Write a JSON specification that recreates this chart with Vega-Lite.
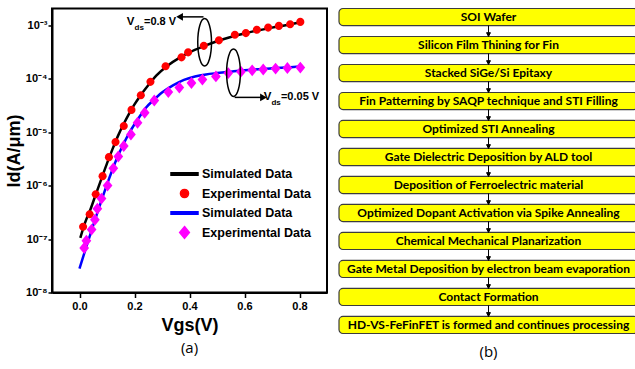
{
  "$schema": "https://vega.github.io/schema/vega-lite/v6.json",
  "padding": {"left": 4, "top": 7.5, "right": 0, "bottom": 0},
  "spacing": 10,
  "config": {
    "font": "Liberation Sans",
    "view": {"stroke": "black", "strokeWidth": 2},
    "axis": {"grid": false, "domainColor": "black", "domainWidth": 2, "tickColor": "black", "tickWidth": 1.5, "labelColor": "black", "titleColor": "black"}
  },
  "datasets": {
    "sim": [
      {"V": 0.003, "I": 1.05e-7, "series": "sim08"},
      {"V": 0.02, "I": 2.0e-7, "series": "sim08"},
      {"V": 0.04, "I": 3.6e-7, "series": "sim08"},
      {"V": 0.06, "I": 7.0e-7, "series": "sim08"},
      {"V": 0.08, "I": 1.35e-6, "series": "sim08"},
      {"V": 0.10, "I": 2.6e-6, "series": "sim08"},
      {"V": 0.12, "I": 4.8e-6, "series": "sim08"},
      {"V": 0.14, "I": 8.5e-6, "series": "sim08"},
      {"V": 0.16, "I": 1.4e-5, "series": "sim08"},
      {"V": 0.18, "I": 2.2e-5, "series": "sim08"},
      {"V": 0.20, "I": 3.3e-5, "series": "sim08"},
      {"V": 0.22, "I": 4.7e-5, "series": "sim08"},
      {"V": 0.25, "I": 7.5e-5, "series": "sim08"},
      {"V": 0.28, "I": 1.15e-4, "series": "sim08"},
      {"V": 0.32, "I": 1.75e-4, "series": "sim08"},
      {"V": 0.36, "I": 2.4e-4, "series": "sim08"},
      {"V": 0.40, "I": 3.1e-4, "series": "sim08"},
      {"V": 0.45, "I": 4.0e-4, "series": "sim08"},
      {"V": 0.50, "I": 5.0e-4, "series": "sim08"},
      {"V": 0.55, "I": 6.0e-4, "series": "sim08"},
      {"V": 0.60, "I": 7.0e-4, "series": "sim08"},
      {"V": 0.65, "I": 8.0e-4, "series": "sim08"},
      {"V": 0.70, "I": 9.0e-4, "series": "sim08"},
      {"V": 0.75, "I": 1.0e-3, "series": "sim08"},
      {"V": 0.80, "I": 1.12e-3, "series": "sim08"},
      {"V": 0.0, "I": 2.8e-8, "series": "sim005"},
      {"V": 0.02, "I": 6.0e-8, "series": "sim005"},
      {"V": 0.04, "I": 1.25e-7, "series": "sim005"},
      {"V": 0.06, "I": 2.6e-7, "series": "sim005"},
      {"V": 0.08, "I": 5.3e-7, "series": "sim005"},
      {"V": 0.10, "I": 1.05e-6, "series": "sim005"},
      {"V": 0.12, "I": 2.0e-6, "series": "sim005"},
      {"V": 0.14, "I": 3.6e-6, "series": "sim005"},
      {"V": 0.16, "I": 6.0e-6, "series": "sim005"},
      {"V": 0.18, "I": 9.5e-6, "series": "sim005"},
      {"V": 0.20, "I": 1.4e-5, "series": "sim005"},
      {"V": 0.22, "I": 2.0e-5, "series": "sim005"},
      {"V": 0.24, "I": 2.8e-5, "series": "sim005"},
      {"V": 0.27, "I": 4.0e-5, "series": "sim005"},
      {"V": 0.30, "I": 5.5e-5, "series": "sim005"},
      {"V": 0.34, "I": 7.5e-5, "series": "sim005"},
      {"V": 0.38, "I": 9.5e-5, "series": "sim005"},
      {"V": 0.42, "I": 1.1e-4, "series": "sim005"},
      {"V": 0.46, "I": 1.2e-4, "series": "sim005"},
      {"V": 0.50, "I": 1.27e-4, "series": "sim005"},
      {"V": 0.55, "I": 1.35e-4, "series": "sim005"},
      {"V": 0.60, "I": 1.43e-4, "series": "sim005"},
      {"V": 0.65, "I": 1.5e-4, "series": "sim005"},
      {"V": 0.70, "I": 1.56e-4, "series": "sim005"},
      {"V": 0.75, "I": 1.62e-4, "series": "sim005"},
      {"V": 0.80, "I": 1.68e-4, "series": "sim005"}
    ],
    "exp": [
      {"V": 0.013, "I": 1.7e-7, "series": "exp08"},
      {"V": 0.037, "I": 2.9e-7, "series": "exp08"},
      {"V": 0.059, "I": 6.9e-7, "series": "exp08"},
      {"V": 0.084, "I": 1.5e-6, "series": "exp08"},
      {"V": 0.107, "I": 3.4e-6, "series": "exp08"},
      {"V": 0.131, "I": 6.5e-6, "series": "exp08"},
      {"V": 0.161, "I": 1.3e-5, "series": "exp08"},
      {"V": 0.189, "I": 2.6e-5, "series": "exp08"},
      {"V": 0.223, "I": 4.9e-5, "series": "exp08"},
      {"V": 0.258, "I": 8.7e-5, "series": "exp08"},
      {"V": 0.313, "I": 1.7e-4, "series": "exp08"},
      {"V": 0.371, "I": 2.5e-4, "series": "exp08"},
      {"V": 0.395, "I": 3.1e-4, "series": "exp08"},
      {"V": 0.452, "I": 4.1e-4, "series": "exp08"},
      {"V": 0.507, "I": 5.2e-4, "series": "exp08"},
      {"V": 0.565, "I": 6.6e-4, "series": "exp08"},
      {"V": 0.605, "I": 7.1e-4, "series": "exp08"},
      {"V": 0.645, "I": 8.2e-4, "series": "exp08"},
      {"V": 0.686, "I": 9.0e-4, "series": "exp08"},
      {"V": 0.725, "I": 9.7e-4, "series": "exp08"},
      {"V": 0.766, "I": 1.04e-3, "series": "exp08"},
      {"V": 0.803, "I": 1.15e-3, "series": "exp08"},
      {"V": 0.017, "I": 6.8e-8, "series": "exp005"},
      {"V": 0.025, "I": 9.3e-8, "series": "exp005"},
      {"V": 0.044, "I": 1.5e-7, "series": "exp005"},
      {"V": 0.056, "I": 2.3e-7, "series": "exp005"},
      {"V": 0.065, "I": 3.7e-7, "series": "exp005"},
      {"V": 0.08, "I": 5.7e-7, "series": "exp005"},
      {"V": 0.102, "I": 1.0e-6, "series": "exp005"},
      {"V": 0.123, "I": 2.1e-6, "series": "exp005"},
      {"V": 0.141, "I": 3.5e-6, "series": "exp005"},
      {"V": 0.161, "I": 5.5e-6, "series": "exp005"},
      {"V": 0.187, "I": 9.0e-6, "series": "exp005"},
      {"V": 0.211, "I": 1.5e-5, "series": "exp005"},
      {"V": 0.237, "I": 2.3e-5, "series": "exp005"},
      {"V": 0.272, "I": 3.9e-5, "series": "exp005"},
      {"V": 0.323, "I": 5.6e-5, "series": "exp005"},
      {"V": 0.363, "I": 6.8e-5, "series": "exp005"},
      {"V": 0.407, "I": 8.3e-5, "series": "exp005"},
      {"V": 0.447, "I": 9.6e-5, "series": "exp005"},
      {"V": 0.496, "I": 1.1e-4, "series": "exp005"},
      {"V": 0.541, "I": 1.27e-4, "series": "exp005"},
      {"V": 0.587, "I": 1.35e-4, "series": "exp005"},
      {"V": 0.628, "I": 1.43e-4, "series": "exp005"},
      {"V": 0.668, "I": 1.48e-4, "series": "exp005"},
      {"V": 0.713, "I": 1.54e-4, "series": "exp005"},
      {"V": 0.756, "I": 1.58e-4, "series": "exp005"},
      {"V": 0.803, "I": 1.61e-4, "series": "exp005"}
    ],
    "ellipses": [
      {"V": 0.455, "I": 4.8e-4},
      {"V": 0.56, "I": 1.29e-4}
    ],
    "arrows": [
      {"from": 0.451, "to": 0.364, "I": 1.43e-3, "dir": "left"},
      {"from": 0.564, "to": 0.669, "I": 4.46e-5, "dir": "right"}
    ],
    "notes": [
      {"V": 0.2, "I": 1.16e-3, "val": "=0.8 V"},
      {"V": 0.698, "I": 4.5e-5, "val": "=0.05 V"}
    ],
    "steps": [
      {"step": "SOI Wafer"},
      {"step": "Silicon Film Thining for Fin"},
      {"step": "Stacked SiGe/Si Epitaxy"},
      {"step": "Fin Patterning by SAQP technique and  STI  Filling"},
      {"step": "Optimized STI Annealing"},
      {"step": "Gate Dielectric Deposition by ALD tool"},
      {"step": "Deposition of Ferroelectric material"},
      {"step": "Optimized Dopant Activation via Spike Annealing"},
      {"step": "Chemical Mechanical Planarization"},
      {"step": "Gate Metal Deposition by electron beam evaporation"},
      {"step": "Contact Formation"},
      {"step": "HD-VS-FeFinFET  is formed and continues processing"}
    ]
  },
  "hconcat": [
    {
      "width": 275,
      "height": 284,
      "title": {"text": "(a)", "orient": "bottom", "anchor": "middle", "font": "Open Sans", "fontSize": 15, "fontWeight": "normal", "offset": 6},
      "layer": [
        {
          "data": {"name": "sim"},
          "mark": {"type": "line", "strokeWidth": 2.5, "interpolate": "monotone"},
          "encoding": {
            "x": {"field": "V", "type": "quantitative",
              "scale": {"domain": [-0.1, 0.9], "nice": false, "zero": false},
              "axis": {"values": [0, 0.1, 0.2, 0.3, 0.4, 0.5, 0.6, 0.7, 0.8],
                "labelExpr": "round(datum.value*10) % 2 == 0 ? format(datum.value, '.1f') : ''",
                "tickSize": {"condition": {"test": "round(datum.value*10) % 2 != 0", "value": 3}, "value": 5},
                "labelFont": "Liberation Sans", "labelFontWeight": "bold", "labelFontSize": 11, "labelPadding": 3,
                "title": "Vgs(V)", "titleFont": "Liberation Sans", "titleFontWeight": "bold", "titleFontSize": 18, "titlePadding": 5}},
            "y": {"field": "I", "type": "quantitative",
              "scale": {"type": "log", "domain": [1e-8, 2.05e-3], "nice": false},
              "axis": {"values": [1e-8, 1e-7, 1e-6, 1e-5, 1e-4, 1e-3],
                "labelExpr": "'10' + ['⁻⁸','⁻⁷','⁻⁶','⁻⁵','⁻⁴','⁻³'][round(log(datum.value)/LN10) + 8]",
                "tickSize": 4, "labelFont": "Liberation Sans", "labelFontWeight": "bold", "labelFontSize": 11, "labelPadding": 1,
                "title": "Id(A/μm)", "titleFont": "Liberation Sans", "titleFontWeight": "bold", "titleFontSize": 18, "titlePadding": 2}},
            "color": {"field": "series", "type": "nominal",
              "scale": {"domain": ["sim08", "exp08", "sim005", "exp005"], "range": ["#000000", "#ff0000", "#0000ff", "#ff00ff"]},
              "legend": {"title": null, "orient": "none", "legendX": 118, "legendY": 157,
                "labelExpr": "indexof(datum.label, 'sim') == 0 ? 'Simulated Data' : 'Experimental Data'",
                "labelFont": "Liberation Sans", "labelFontWeight": "bold", "labelFontSize": 12.5, "labelColor": "black",
                "labelOffset": 3, "symbolSize": 729, "clipHeight": 17, "rowPadding": 2.5, "padding": 0}},
            "detail": {"field": "series"}
          }
        },
        {
          "data": {"name": "exp"},
          "mark": {"type": "point", "filled": true, "opacity": 1, "size": 729},
          "encoding": {
            "x": {"field": "V", "type": "quantitative"},
            "y": {"field": "I", "type": "quantitative"},
            "color": {"field": "series", "type": "nominal"},
            "shape": {"field": "series", "type": "nominal",
              "scale": {"domain": ["sim08", "exp08", "sim005", "exp005"],
                "range": ["M-1,-0.09L1,-0.09L1,0.09L-1,0.09Z", "M-0.3,0A0.3,0.3 0 1,0 0.3,0A0.3,0.3 0 1,0 -0.3,0Z", "M-1,-0.09L1,-0.09L1,0.09L-1,0.09Z", "M0,-0.44L0.36,0L0,0.44L-0.36,0Z"]},
              "legend": {"title": null, "orient": "none", "legendX": 118, "legendY": 157,
                "labelExpr": "indexof(datum.label, 'sim') == 0 ? 'Simulated Data' : 'Experimental Data'",
                "labelFont": "Liberation Sans", "labelFontWeight": "bold", "labelFontSize": 12.5, "labelColor": "black",
                "labelOffset": 3, "symbolSize": 729, "clipHeight": 17, "rowPadding": 2.5, "padding": 0}
            }
          }
        },
        {
          "data": {"name": "ellipses"},
          "mark": {"type": "point", "filled": false, "color": "black", "strokeWidth": 1.5, "opacity": 1, "size": 2250,
            "shape": "M-0.29,0A0.29,1 0 1,0 0.29,0A0.29,1 0 1,0 -0.29,0Z"},
          "encoding": {
            "x": {"field": "V", "type": "quantitative"},
            "y": {"field": "I", "type": "quantitative"}
          }
        },
        {
          "data": {"name": "arrows"},
          "mark": {"type": "rule", "color": "black", "strokeWidth": 1.5},
          "encoding": {
            "x": {"field": "from", "type": "quantitative"},
            "x2": {"field": "to"},
            "y": {"field": "I", "type": "quantitative"}
          }
        },
        {
          "data": {"name": "arrows"},
          "transform": [{"filter": "datum.dir == 'left'"}],
          "mark": {"type": "point", "filled": true, "color": "black", "opacity": 1, "size": 60, "shape": "triangle-left"},
          "encoding": {
            "x": {"field": "to", "type": "quantitative"},
            "y": {"field": "I", "type": "quantitative"}
          }
        },
        {
          "data": {"name": "arrows"},
          "transform": [{"filter": "datum.dir == 'right'"}],
          "mark": {"type": "point", "filled": true, "color": "black", "opacity": 1, "size": 60, "shape": "triangle-right"},
          "encoding": {
            "x": {"field": "to", "type": "quantitative"},
            "y": {"field": "I", "type": "quantitative"}
          }
        },
        {
          "data": {"name": "notes"},
          "mark": {"type": "text", "text": "V", "align": "right", "baseline": "middle", "font": "Liberation Sans", "fontWeight": "bold", "fontSize": 11.5, "color": "black"},
          "encoding": {
            "x": {"field": "V", "type": "quantitative"},
            "y": {"field": "I", "type": "quantitative"}
          }
        },
        {
          "data": {"name": "notes"},
          "mark": {"type": "text", "text": "ds", "align": "left", "baseline": "middle", "dy": 6, "font": "Liberation Sans", "fontWeight": "bold", "fontSize": 8, "color": "black"},
          "encoding": {
            "x": {"field": "V", "type": "quantitative"},
            "y": {"field": "I", "type": "quantitative"}
          }
        },
        {
          "data": {"name": "notes"},
          "mark": {"type": "text", "align": "left", "baseline": "middle", "dx": 9.5, "font": "Liberation Sans", "fontWeight": "bold", "fontSize": 11, "color": "black"},
          "encoding": {
            "x": {"field": "V", "type": "quantitative"},
            "y": {"field": "I", "type": "quantitative"},
            "text": {"field": "val"}
          }
        }
      ]
    },
    {
      "width": 299,
      "height": 325,
      "view": {"stroke": null},
      "data": {"name": "steps"},
      "title": {"text": "(b)", "orient": "bottom", "anchor": "middle", "font": "Open Sans", "fontSize": 15, "fontWeight": "normal", "offset": 11},
      "encoding": {
        "y": {"field": "step", "type": "ordinal", "sort": null, "scale": {"paddingInner": 0.39, "paddingOuter": 0}, "axis": null}
      },
      "layer": [
        {"mark": {"type": "rect", "fill": "#ffff00", "stroke": "#3c3c3c", "strokeWidth": 1.2, "cornerRadius": 4}},
        {"mark": {"type": "text", "font": "Lato", "fontWeight": "bold", "fontSize": 12, "color": "black", "baseline": "middle"},
         "encoding": {"text": {"field": "step"}}},
        {"transform": [{"filter": "datum.step != 'HD-VS-FeFinFET  is formed and continues processing'"}],
         "mark": {"type": "point", "filled": true, "color": "black", "opacity": 1, "stroke": "black", "strokeWidth": 1, "size": 121, "yOffset": 14,
           "shape": "M0,-1L0,0.3M-0.35,0.3L0.35,0.3L0,1Z"}}
      ]
    }
  ]
}
